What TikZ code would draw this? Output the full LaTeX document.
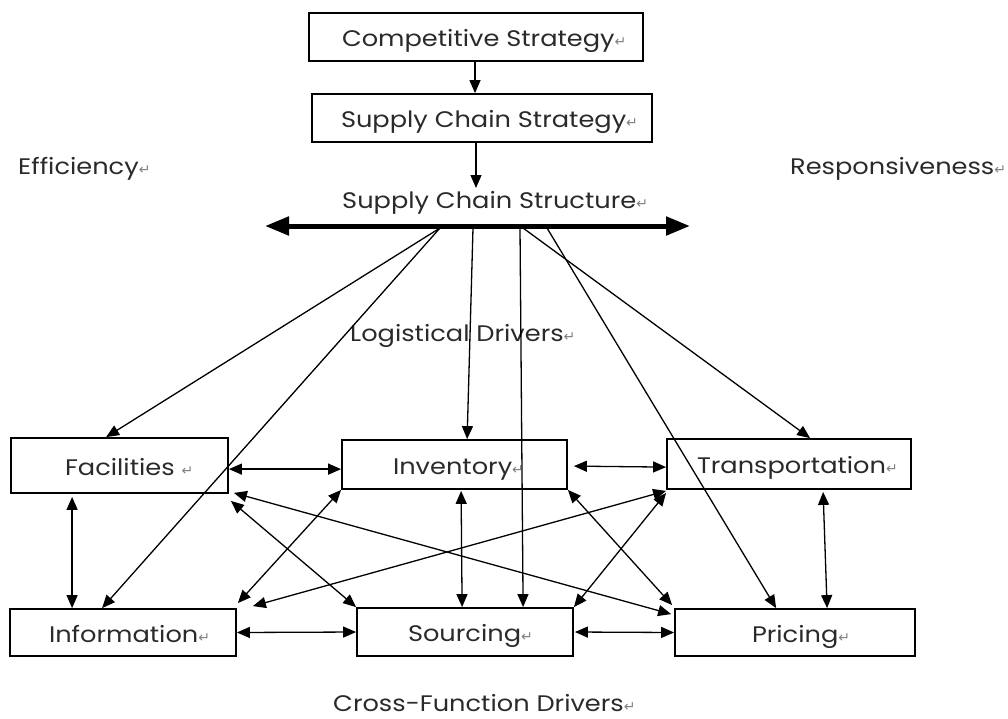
\documentclass[tikz,border=0pt]{standalone}
\usepackage{fontspec}
\setmainfont{Poppins}[FakeStretch=1.14]
\newfontfamily\retfont{DejaVu Sans}
\usetikzlibrary{arrows.meta,calc}
\definecolor{txt}{HTML}{2A2A2A}
\newcommand{\ret}{{\retfont\fontsize{14}{14}\selectfont\textcolor{gray}{↵}}}
\newcommand{\boxtext}[3]{\makebox[#1pt][l]{\hspace*{#2pt}#3}}
\tikzset{
  txtfont/.style={text=txt, font=\fontsize{22.5}{24}\selectfont, text height=24pt, text depth=5pt},
  box/.style={draw=black, line width=1.8pt, rectangle, inner sep=0pt, txtfont},
  lbl/.style={inner sep=0pt, txtfont, anchor=west},
  onearrow/.style={line width=1.3pt, -{Triangle[length=13pt,width=11pt]}},
  twoarrow/.style={line width=1.3pt, {Triangle[length=13pt,width=11pt]}-{Triangle[length=13pt,width=11pt]}},
  thickarrow/.style={line width=5pt, {Triangle[length=24pt,width=18pt]}-{Triangle[length=24pt,width=18pt]}}
}
\begin{document}
\begin{tikzpicture}[x=1pt,y=-1pt]
\useasboundingbox (0,0) rectangle (1008,718);
% boxes
\node[box, minimum width=334pt, minimum height=48pt] (cs) at (476,37) {\boxtext{334}{33}{Competitive Strategy\ret}};
\node[box, minimum width=340pt, minimum height=48pt] (scs) at (482,118) {\boxtext{340}{29}{Supply Chain Strategy\ret}};
\node[box, minimum width=217pt, minimum height=55pt] (fac) at (119.5,465.5) {\boxtext{217}{54}{Facilities \ret}};
\node[box, minimum width=225pt, minimum height=49pt] (inv) at (454.5,464.5) {\boxtext{225}{51}{Inventory\ret}};
\node[box, minimum width=244pt, minimum height=50pt] (tra) at (789,464) {\boxtext{244}{30}{Transportation\ret}};
\node[box, minimum width=226pt, minimum height=47pt] (info) at (123,632.5) {\boxtext{226}{39}{Information\ret}};
\node[box, minimum width=216pt, minimum height=48pt] (sou) at (465,632) {\boxtext{216}{51}{Sourcing\ret}};
\node[box, minimum width=240pt, minimum height=47pt] (pri) at (795,632.5) {\boxtext{240}{77}{Pricing\ret}};
% free labels
\node[lbl] (eff) at (18,165) {Efficiency\ret};
\node[lbl] (resp) at (790,165) {Responsiveness\ret};
\node[lbl] (sct) at (342,199) {Supply Chain Structure\ret};
\node[lbl] (logi) at (350,332) {Logistical Drivers\ret};
\node[lbl] (cross) at (333,702) {Cross-Function Drivers\ret};
% axis
\coordinate (axL) at (265,226);
\coordinate (axR) at (690,226);
\draw[thickarrow] (axL) -- (axR);
\coordinate (o1) at (440,228);
\coordinate (o2) at (473,228);
\coordinate (o3) at (520,228);
\coordinate (o4) at (523,228);
\coordinate (o5) at (547,228);
% top chain
\coordinate (sa) at ($(scs.south)+(-6,0)$);
\coordinate (sb) at ($(sct.west)+(134,-11)$);
\draw[onearrow] ($(cs.south)+(-1,0)$) -- ($(scs.north)+(-7,0)$);
\draw[onearrow] (sa) -- (sa |- sb);
% from structure
\draw[onearrow] (o1) -- ($(fac.north west)+(96,0)$);
\draw[onearrow] (o1) -- ($(info.north west)+(93,0)$);
\draw[onearrow] (o2) -- ($(inv.north west)+(126,0)$);
\draw[onearrow] (o3) -- ($(sou.north west)+(167,0)$);
\draw[onearrow] (o4) -- ($(tra.north west)+(144,0)$);
\draw[onearrow] (o5) -- ($(pri.north west)+(102,0)$);
% double arrows
\draw[twoarrow] ($(fac.north east)+(0,32)$) -- ($(inv.north west)+(0,30)$);
\draw[twoarrow] ($(inv.north east)+(6,27)$) -- ($(tra.north west)+(0,29)$);
\draw[twoarrow] ($(fac.south west)+(62,3)$) -- ($(info.north west)+(63,0)$);
\draw[twoarrow] (info.east) -- (sou.west);
\draw[twoarrow] ($(sou.east)+(1,0)$) -- (pri.west);
\draw[twoarrow] ($(inv.south west)+(120,1)$) -- ($(sou.north west)+(106,0)$);
\draw[twoarrow] ($(tra.south west)+(157,2)$) -- ($(pri.north west)+(153,0)$);
\draw[twoarrow] ($(fac.south east)+(2,7)$) -- (sou.north west);
\draw[twoarrow] ($(fac.south east)+(5,-1)$) -- ($(pri.north west)+(-3,6)$);
\draw[twoarrow] (inv.south east) -- ($(pri.north west)+(-2,-3)$);
\draw[twoarrow] ($(info.north east)+(1,-5)$) -- (inv.south west);
\draw[twoarrow] ($(info.north east)+(16,-2)$) -- ($(tra.south west)+(0,1)$);
\draw[twoarrow] (sou.north east) -- ($(tra.south west)+(0,3)$);
\end{tikzpicture}
\end{document}
